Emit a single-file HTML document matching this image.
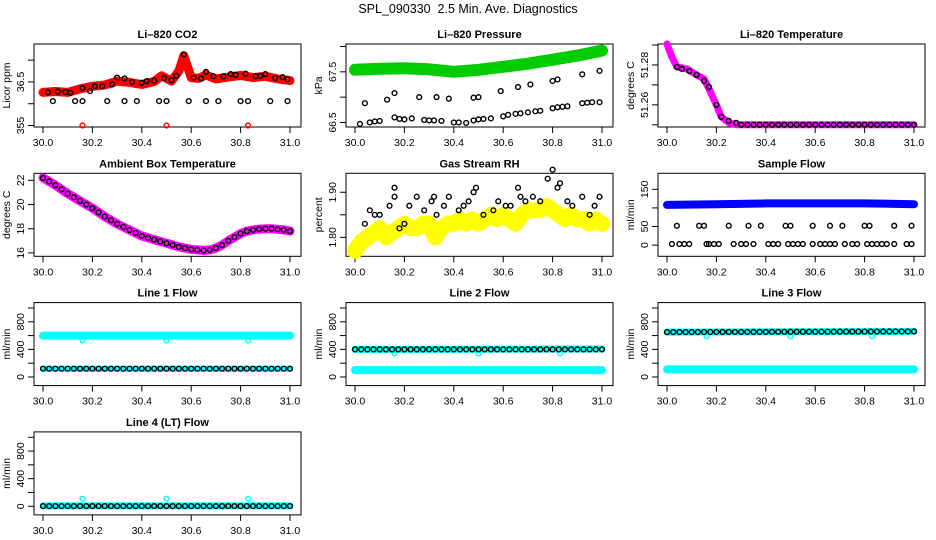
<!DOCTYPE html>
<html><head><meta charset="utf-8">
<style>
html,body{margin:0;padding:0;background:#fff;}
svg{display:block;font-family:"Liberation Sans",sans-serif;}
</style></head>
<body>
<svg id="chart" width="936" height="540" viewBox="0 0 936 540" xmlns="http://www.w3.org/2000/svg">
<rect x="0" y="0" width="936" height="540" fill="#fff"/>
<text x="468" y="13" font-size="12.5" text-anchor="middle">SPL_090330&#160; 2.5 Min. Ave. Diagnostics</text>
</svg>
<script>
// ---------- data ----------
const xTicks = [30.0, 30.2, 30.4, 30.6, 30.8, 31.0];
const xTickLabels = ["30.0","30.2","30.4","30.6","30.8","31.0"];
const T41 = [30.0,30.025,30.05,30.075,30.1,30.125,30.15,30.175,30.2,30.225,30.25,30.275,30.3,30.325,30.35,30.375,30.4,30.425,30.45,30.475,30.5,30.525,30.55,30.575,30.6,30.625,30.65,30.675,30.7,30.725,30.75,30.775,30.8,30.825,30.85,30.875,30.9,30.925,30.95,30.975,31.0];

// Panel 1: CO2
const co2BandT = [30.0,30.05,30.1,30.15,30.2,30.25,30.3,30.35,30.4,30.45,30.48,30.52,30.55,30.57,30.6,30.63,30.66,30.7,30.75,30.8,30.85,30.9,30.95,31.0];
const co2BandV = [362.6,362.8,362.6,363.4,364,364.3,365.2,364.9,364.4,365.1,366.4,365.2,367.5,371,366,365.8,366.6,365.7,366.1,366.5,366,366.3,365.7,365.3];
const co2AvgT = [30.02,30.06,30.09,30.11,30.16,30.19,30.21,30.24,30.28,30.30,30.33,30.36,30.40,30.42,30.45,30.49,30.52,30.54,30.57,30.61,30.64,30.66,30.69,30.73,30.76,30.78,30.82,30.86,30.88,30.90,30.94,30.97,30.99];
const co2AvgV = [362.6,362.8,362.7,362.5,363.6,362.9,364.0,364.0,364.4,366.0,365.8,365.0,364.8,365.2,365.3,365.9,365.4,366.4,371.3,366.0,365.8,367.3,366.3,366.3,366.8,366.6,366.9,366.3,366.4,366.8,365.9,366.1,365.6];
const co2LowT = [30.04,30.13,30.16,30.26,30.33,30.38,30.47,30.50,30.59,30.66,30.71,30.80,30.83,30.92,30.99];
const co2LowV = [360.6,360.6,360.6,360.6,360.6,360.6,360.6,360.6,360.6,360.6,360.6,360.6,360.6,360.6,360.6];
const co2RedT = [30.16,30.5,30.83];
const co2RedV = [355,355,355];

// Panel 2: Pressure
const presBandT = [30.0,30.1,30.2,30.3,30.4,30.5,30.6,30.7,30.8,30.9,31.0];
const presBandV = [67.54,67.56,67.57,67.55,67.5,67.54,67.6,67.66,67.74,67.82,67.92];
const presUpT = [30.04,30.13,30.16,30.26,30.33,30.38,30.48,30.50,30.59,30.66,30.71,30.80,30.82,30.92,30.99];
const presUpV = [66.88,66.95,67.08,67.0,67.0,66.97,66.99,67.0,67.12,67.2,67.25,67.32,67.35,67.45,67.52];
const presLowT = [30.02,30.06,30.08,30.10,30.16,30.18,30.20,30.23,30.28,30.30,30.32,30.35,30.40,30.42,30.45,30.48,30.50,30.52,30.55,30.60,30.62,30.65,30.67,30.70,30.73,30.75,30.80,30.82,30.84,30.86,30.92,30.94,30.96,30.99];
const presLowV = [66.47,66.5,66.52,66.53,66.6,66.57,66.56,66.58,66.55,66.54,66.54,66.53,66.5,66.5,66.49,66.54,66.56,66.57,66.58,66.62,66.65,66.67,66.68,66.7,66.72,66.73,66.78,66.8,66.81,66.82,66.88,66.89,66.9,66.9];

// Panel 3: Li-820 Temperature
const ltBandT = [30.0,30.02,30.04,30.08,30.12,30.15,30.17,30.2,30.22,30.25,30.28,30.3,30.5,30.7,31.0];
const ltBandV = [51.2905,51.284,51.279,51.278,51.275,51.273,51.268,51.26,51.254,51.251,51.25,51.25,51.25,51.25,51.25];
const ltAvgT = [30.04,30.06,30.09,30.12,30.15,30.17,30.2,30.22,30.25,30.28,30.3,30.325,30.35,30.375,30.4,30.425,30.45,30.475,30.5,30.525,30.55,30.575,30.6,30.625,30.65,30.675,30.7,30.725,30.75,30.775,30.8,30.825,30.85,30.875,30.9,30.925,30.95,30.975,31.0];
const ltAvgV = [51.279,51.278,51.277,51.275,51.272,51.269,51.26,51.254,51.252,51.251,51.25,51.25,51.25,51.25,51.25,51.25,51.25,51.25,51.25,51.25,51.25,51.25,51.25,51.25,51.25,51.25,51.25,51.25,51.25,51.25,51.25,51.25,51.25,51.25,51.25,51.25,51.25,51.25,51.25];

// Panel 4: Ambient Box Temperature
const ambV = [22.2,21.9,21.6,21.25,20.9,20.6,20.3,20.0,19.7,19.35,19.0,18.7,18.4,18.15,17.9,17.65,17.4,17.25,17.1,16.95,16.8,16.65,16.5,16.4,16.3,16.25,16.2,16.25,16.4,16.65,17.0,17.3,17.6,17.8,17.9,17.97,18.0,18.0,17.95,17.9,17.8];

// Panel 5: Gas Stream RH
const rhYelV = [1.77,1.79,1.80,1.81,1.82,1.80,1.81,1.82,1.83,1.82,1.82,1.83,1.83,1.80,1.82,1.83,1.83,1.84,1.83,1.84,1.83,1.84,1.85,1.84,1.85,1.84,1.83,1.85,1.86,1.86,1.86,1.87,1.86,1.85,1.84,1.85,1.84,1.84,1.83,1.84,1.83];
const rhBlkT = [30.04,30.06,30.08,30.10,30.14,30.16,30.16,30.18,30.20,30.22,30.25,30.28,30.31,30.32,30.33,30.36,30.38,30.42,30.44,30.46,30.48,30.49,30.52,30.56,30.58,30.61,30.63,30.66,30.67,30.69,30.72,30.75,30.78,30.80,30.82,30.83,30.86,30.88,30.92,30.95,30.97,30.99];
const rhBlkV = [1.83,1.86,1.85,1.85,1.87,1.89,1.91,1.82,1.83,1.87,1.89,1.86,1.88,1.89,1.85,1.87,1.89,1.86,1.87,1.88,1.90,1.91,1.85,1.86,1.88,1.87,1.87,1.91,1.89,1.88,1.89,1.88,1.93,1.95,1.91,1.92,1.88,1.87,1.89,1.85,1.87,1.89];

// Panel 6: Sample Flow
const sfBandT = [30.0,30.2,30.4,30.6,30.8,31.0];
const sfBandV = [108,110,112,112,112,110];
const sfMidT = [30.04,30.13,30.15,30.25,30.33,30.38,30.48,30.5,30.59,30.66,30.71,30.8,30.82,30.92,30.99];
const sfMidV = [52,52,52,52,52,52,52,52,52,52,52,52,52,52,52];
const sfLowT = [30.02,30.05,30.07,30.09,30.16,30.17,30.19,30.21,30.27,30.3,30.32,30.35,30.41,30.43,30.45,30.49,30.51,30.53,30.55,30.59,30.62,30.64,30.66,30.68,30.72,30.75,30.77,30.81,30.83,30.85,30.87,30.89,30.92,30.97,30.99];
const sfLowV = [3,3,3,3,3,3,3,3,3,3,3,3,3,3,3,3,3,3,3,3,3,3,3,3,3,3,3,3,3,3,3,3,3,3,3];

// Line flows
const flowBandT = [30.0,31.0];
const l1CyanV = [600,600];
const l1BlackV = [120,120];
const l2CyanHiV = [400,405];
const l2CyanLoV = [100,100];
const l2BlackV = [400,400];
const l3CyanHiV = [650,660];
const l3CyanLoV = [110,110];
const l3BlackV = [650,660];
const l4CyanV = [5,5];
const l4BlackV = [3,3];
const spikeT = [30.16,30.5,30.83];
const l1SpikeV = [530,530,530];
const l2SpikeV = [340,340,340];
const l3SpikeV = [590,590,590];
const l4SpikeV = [110,110,110];

// ---------- drawing ----------
const NS = "http://www.w3.org/2000/svg";
const svg = document.getElementById('chart');
function mk(tag, attrs, parent){
  const e = document.createElementNS(NS, tag);
  for (const k in attrs) e.setAttribute(k, attrs[k]);
  (parent||svg).appendChild(e);
  return e;
}
function panel(c, r, ylo, yhi, title, ylab, yTicks, yLabels, name){
  const L = 34 + 312*c, R = 301 + 312*c, T = 44 + 129.3*r, B = 127 + 129.3*r;
  const g = mk('g', {});
  
  
  const p = {L, R, T, B, ylo, yhi, g,
    sx: t => (43 + 312*c) + (t - 30.0) * 247,
    sy: v => B - (v - ylo) / (yhi - ylo) * (B - T)};
  const tt = mk('text', {x:(L+R)/2, y:T-6, 'font-size':11, 'font-weight':'bold', 'text-anchor':'middle'}, g);
  tt.textContent = title;
  
  
  const box = mk('rect', {x:L, y:T, width:R-L, height:B-T, fill:'none', stroke:'#000', 'stroke-width':1}, g);
  
  
  const xa = mk('g', {}, g);
  
  
  xTicks.forEach((t, i) => {
    const x = p.sx(t);
    mk('line', {x1:x, x2:x, y1:B, y2:B+6, stroke:'#000'}, xa);
    const lb = mk('text', {x:x, y:B+19, 'font-size':10.5, 'text-anchor':'middle'}, xa);
    lb.textContent = xTickLabels[i];
  });
  const ya = mk('g', {}, g);
  
  
  yTicks.forEach(v => {
    const y = p.sy(v);
    mk('line', {x1:L-6, x2:L, y1:y, y2:y, stroke:'#000'}, ya);
  });
  yLabels.forEach(([v, s]) => {
    const y = p.sy(v);
    const lb = mk('text', {x:0, y:0, 'font-size':10.5, 'text-anchor':'middle', transform:`translate(${L-10},${y}) rotate(-90)`}, ya);
    lb.textContent = s;
  });
  const yt = mk('text', {x:0, y:0, 'font-size':10.5, 'text-anchor':'middle', transform:`translate(${L-24},${(T+B)/2}) rotate(-90)`}, g);
  yt.textContent = ylab;
  
  
  return p;
}
function band(p, ts, vs, color, w, name){
  const pts = ts.map((t, i) => p.sx(t).toFixed(1) + ',' + p.sy(vs[i]).toFixed(1)).join(' ');
  const pl = mk('polyline', {points:pts, fill:'none', stroke:color, 'stroke-width':w, 'stroke-linejoin':'round', 'stroke-linecap':'round'}, p.g);
  
  
}
function pts(p, ts, vs, color, name, rad, sw){
  const g = mk('g', {}, p.g);
  
  
  ts.forEach((t, i) => {
    mk('circle', {cx:p.sx(t), cy:p.sy(vs[i]), r:rad||2.4, fill:'none', stroke:color, 'stroke-width':sw||1.4}, g);
  });
}

// Panel 1
let p = panel(0, 0, 354.66, 373.7, 'Li\u2013820 CO2', 'Licor ppm', [355,360,365,370], [[355,'355'],[365,'36.5']], 'co2');
band(p, co2BandT, co2BandV, '#ff0000', 9, 'co2-raw-band');
pts(p, co2AvgT, co2AvgV, '#000', 'co2-avg-points');
pts(p, co2LowT, co2LowV, '#000', 'co2-low-points');
pts(p, co2RedT, co2RedV, '#ff0000', 'co2-red-points');

// Panel 2
p = panel(1, 0, 66.41, 68.05, 'Li\u2013820 Pressure', 'kPa', [66.5,67.0,67.5,68.0], [[66.5,'66.5'],[67.5,'67.5']], 'pressure');
band(p, presBandT, presBandV, '#00cc00', 12, 'pressure-raw-band');
pts(p, presUpT, presUpV, '#000', 'pressure-upper-points');
pts(p, presLowT, presLowV, '#000', 'pressure-lower-points');

// Panel 3
p = panel(2, 0, 51.2489, 51.2905, 'Li\u2013820 Temperature', 'degrees C', [51.25,51.26,51.27,51.28,51.29], [[51.26,'51.26'],[51.28,'51.28']], 'li-temp');
band(p, ltBandT, ltBandV, '#ff00ff', 7, 'li-temp-raw-band');
pts(p, ltAvgT, ltAvgV, '#000', 'li-temp-avg-points');

// Panel 4
p = panel(0, 1, 15.72, 22.58, 'Ambient Box Temperature', 'degrees C', [16,18,20,22], [[16,'16'],[18,'18'],[20,'20'],[22,'22']], 'ambient');
band(p, T41, ambV, '#ff00ff', 9, 'ambient-raw-band');
pts(p, T41, ambV, '#000', 'ambient-avg-points');

// Panel 5
p = panel(1, 1, 1.758, 1.942, 'Gas Stream RH', 'percent', [1.80,1.85,1.90], [[1.80,'1.80'],[1.90,'1.90']], 'rh');
band(p, T41, rhYelV, '#ffff00', 16, 'rh-raw-band');
pts(p, T41, rhYelV, '#ffff00', 'rh-raw-points', 2.6, 1.6);
pts(p, rhBlkT, rhBlkV, '#000', 'rh-avg-points');

// Panel 6
p = panel(2, 1, -30, 193, 'Sample Flow', 'ml/min', [0,50,100,150], [[0,'0'],[50,'50'],[150,'150']], 'sample-flow');
band(p, sfBandT, sfBandV, '#0000ff', 8, 'sample-flow-band');
pts(p, sfMidT, sfMidV, '#000', 'sample-flow-mid-points');
pts(p, sfLowT, sfLowV, '#000', 'sample-flow-low-points');

const fTicks = [0,200,400,600,800,1000];
const fLabels = [[0,'0'],[400,'400'],[800,'800']];
// Line 1
p = panel(0, 2, -125, 1078, 'Line 1 Flow', 'ml/min', fTicks, fLabels, 'line1');
band(p, flowBandT, l1CyanV, '#00ffff', 8, 'line1-cyan-band');
pts(p, spikeT, l1SpikeV, '#00ffff', 'line1-cyan-dips');
band(p, flowBandT, l1BlackV, '#00ffff', 6, 'line1-cyan-low-band');
pts(p, T41, T41.map((t,i)=>l1BlackV[0]), '#000', 'line1-avg-points');
// Line 2
p = panel(1, 2, -125, 1078, 'Line 2 Flow', 'ml/min', fTicks, fLabels, 'line2');
band(p, flowBandT, l2CyanHiV, '#00ffff', 7, 'line2-cyan-high-band');
band(p, flowBandT, l2CyanLoV, '#00ffff', 8, 'line2-cyan-low-band');
pts(p, spikeT, l2SpikeV, '#00ffff', 'line2-cyan-dips');
pts(p, T41, T41.map((t,i)=>l2BlackV[0]), '#000', 'line2-avg-points');
// Line 3
p = panel(2, 2, -125, 1078, 'Line 3 Flow', 'ml/min', fTicks, fLabels, 'line3');
band(p, flowBandT, l3CyanHiV, '#00ffff', 7, 'line3-cyan-high-band');
band(p, flowBandT, l3CyanLoV, '#00ffff', 8, 'line3-cyan-low-band');
pts(p, spikeT, l3SpikeV, '#00ffff', 'line3-cyan-dips');
pts(p, T41, T41.map((t,i)=>l3BlackV[0] + (l3BlackV[1]-l3BlackV[0])*(t-30)), '#000', 'line3-avg-points');
// Line 4
p = panel(0, 3, -125, 1078, 'Line 4 (LT) Flow', 'ml/min', fTicks, fLabels, 'line4');
band(p, flowBandT, l4CyanV, '#00ffff', 7, 'line4-cyan-band');
pts(p, spikeT, l4SpikeV, '#00ffff', 'line4-cyan-spikes');
pts(p, T41, T41.map((t,i)=>l4BlackV[0]), '#000', 'line4-avg-points');
</script>
</body></html>
